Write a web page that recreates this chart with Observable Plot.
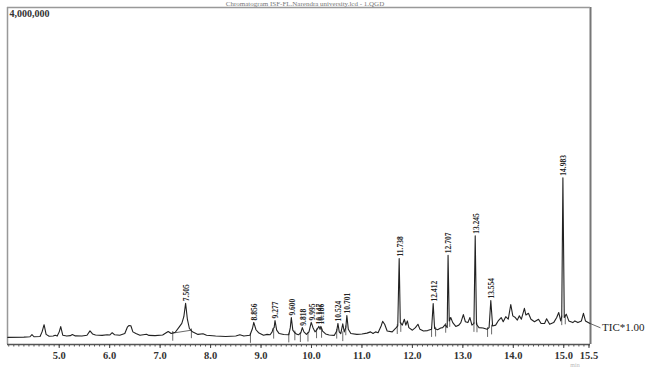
<!DOCTYPE html>
<html>
<head>
<meta charset="utf-8">
<script src="https://cdn.jsdelivr.net/npm/d3@7"></script>
<script src="https://cdn.jsdelivr.net/npm/@observablehq/plot@0.6"></script>
<style>
  html, body { margin: 0; padding: 0; background: #fff; }
  #chart { position: relative; width: 653px; height: 369px; overflow: hidden; }
</style>
</head>
<body>
<div id="chart"></div>
<script>
// Retention time (min) and intensity (counts) of the TIC trace
const traceTime = [3.98,4.3,4.42,4.46,4.50,4.62,4.66,4.70,4.74,4.80,4.88,4.92,4.96,5.00,5.03,5.07,5.15,5.22,5.26,5.32,5.45,5.55,5.61,5.66,5.72,5.85,5.95,6.00,6.05,6.10,6.2,6.30,6.35,6.38,6.42,6.46,6.52,6.6,6.73,6.78,6.9,7.05,7.12,7.16,7.22,7.3,7.38,7.43,7.47,7.505,7.54,7.58,7.64,7.75,7.85,7.92,8.1,8.3,8.5,8.58,8.66,8.78,8.83,8.856,8.9,8.95,9.0,9.05,9.12,9.18,9.22,9.24,9.26,9.277,9.31,9.36,9.45,9.55,9.58,9.600,9.63,9.66,9.70,9.74,9.79,9.818,9.85,9.90,9.95,9.995,10.03,10.07,10.1,10.147,10.17,10.186,10.22,10.28,10.35,10.45,10.50,10.524,10.55,10.58,10.62,10.65,10.68,10.701,10.73,10.78,10.9,11.0,11.1,11.17,11.22,11.27,11.32,11.38,11.41,11.45,11.5,11.6,11.68,11.71,11.738,11.76,11.8,11.84,11.87,11.9,11.93,12.0,12.06,12.11,12.15,12.22,12.3,12.38,12.412,12.44,12.5,12.56,12.6,12.65,12.69,12.707,12.73,12.76,12.8,12.86,12.92,12.96,13.01,13.05,13.1,13.14,13.18,13.22,13.245,13.27,13.32,13.4,13.48,13.52,13.554,13.59,13.65,13.7,13.76,13.8,13.85,13.9,13.95,13.99,14.04,14.08,14.12,14.16,14.22,14.25,14.3,14.35,14.42,14.5,14.55,14.62,14.66,14.72,14.8,14.86,14.9,14.94,14.96,14.983,15.01,15.05,15.1,15.18,15.22,15.28,15.35,15.39,15.43,15.52];
const traceValue = [85,88,92,118,92,95,150,235,120,98,100,110,100,150,212,110,100,105,118,102,100,110,162,125,112,108,115,112,140,115,110,130,205,225,222,150,130,110,122,108,105,112,140,155,130,145,210,250,330,490,300,190,150,120,128,110,100,95,100,115,100,110,190,262,175,140,125,110,120,115,150,190,200,285,170,130,118,115,200,320,170,145,125,115,140,200,150,120,150,262,200,150,170,215,180,215,160,125,112,108,160,250,150,130,245,150,200,345,180,130,120,125,135,150,130,150,140,220,275,240,160,150,200,220,1020,260,230,300,230,280,200,170,200,240,180,160,165,180,487,190,175,195,200,235,200,1060,280,320,260,215,230,260,355,270,260,320,230,250,1290,240,200,195,180,200,522,220,230,280,320,270,330,300,475,340,320,290,340,300,430,350,370,300,270,300,250,250,305,240,260,320,380,280,330,1980,320,360,280,260,280,260,280,370,280,250].map(v => v * 1000);

// Labelled peaks (retention time, apex intensity)
const peakTimes = [7.505,8.856,9.277,9.600,9.818,9.995,10.147,10.186,10.524,10.701,11.738,12.412,12.707,13.245,13.554,14.983];
const peakValues = [490,262,285,320,200,262,215,215,250,345,1020,487,1060,1290,522,1980].map(v => v * 1000);

// Integration start/end markers (time, trace intensity there)
const markTimes = [7.25,7.62,8.79,9.25,9.55,9.67,9.78,9.93,10.1,10.2,10.5,10.62,10.68,11.7,11.77,12.38,12.46,12.66,12.74,13.22,13.28,13.49,13.57,14.96,15.03];
const markValues = [135,165,110,160,115,140,120,125,165,170,160,130,200,215,240,180,185,230,300,240,235,180,210,320,330].map(v => v * 1000);

// Integration baseline drawn under the 7.505 peak
const baseTimes = [7.25, 7.62];
const baseValues = [135000, 170000];

const xTickValues = [5,6,7,8,9,10,11,12,13,14,15,15.5];
const yTickValues = [4000000];
const xDomain = [3.975, 15.53];
const yDomain = [0, 4000000];
const titleText = "Chromatogram ISF-FL.Narendra university.lcd - 1.QGD";
const seriesLabel = "TIC*1.00";
const unitLabel = "min";

const trace = traceTime.map((t, i) => ({t, v: traceValue[i]}));
const peaks = peakTimes.map((t, i) => ({t, v: peakValues[i], label: t.toFixed(3)}));
const marks = markTimes.map((t, i) => ({t, v: markValues[i]}));
const base = baseTimes.map((t, i) => ({t, v: baseValues[i]}));
const minorTicks = d3.range(40, 156).map(d => d / 10);
const last = trace[trace.length - 1];
const tagLine = [{t: last.t, v: last.v}, {t: last.t + 0.2, v: last.v - 50000}];

const serif = "'Liberation Serif', 'Times New Roman', serif";

const chart = Plot.plot({
  width: 653,
  height: 369,
  marginLeft: 7,
  marginRight: 63,
  marginTop: 7,
  marginBottom: 25,
  style: {fontFamily: serif, background: "#fff", overflow: "visible"},
  x: {domain: xDomain, label: null},
  y: {domain: yDomain, axis: null},
  marks: [
    // frame
    Plot.ruleX([xDomain[0]], {stroke: "#999", strokeWidth: 1.5}),
    Plot.ruleX([xDomain[1]], {stroke: "#777", strokeWidth: 2}),
    Plot.ruleY([yDomain[1]], {stroke: "#999", strokeWidth: 1.5}),
    Plot.ruleY([yDomain[0]], {stroke: "#555", strokeWidth: 1.5}),
    // axis
    Plot.axisX({ticks: minorTicks, tickSize: 2.5, text: null, label: null, stroke: "#555"}),
    Plot.axisX({ticks: xTickValues, tickSize: 4, tickPadding: 3, tickFormat: d => d.toFixed(1), label: null,
      fontSize: 10.5, fontWeight: "bold", fill: "#333", stroke: "#444"}),
    // y tick label
    Plot.text(yTickValues, {x: xDomain[0], y: d => d, text: d => d3.format(",")(d), textAnchor: "start",
      dx: 2, dy: 6, fontSize: 10, fontWeight: "bold", fill: "#333"}),
    // integration baseline & markers
    Plot.line(base, {x: "t", y: "v", stroke: "#444", strokeWidth: 0.8}),
    Plot.link(marks, {x1: "t", x2: "t", y1: d => d.v + 25000, y2: d => d.v - 90000, stroke: "#444", strokeWidth: 0.8}),
    // trace
    Plot.line(trace, {x: "t", y: "v", stroke: "#222", strokeWidth: 1.1}),
    // peak labels
    Plot.text(peaks, {x: "t", y: "v", text: "label", rotate: -90, textAnchor: "start", dy: -2, dx: 1,
      fontSize: 7.5, fontWeight: "bold", fill: "#222"}),
    // series tag
    Plot.line(tagLine, {x: "t", y: "v", stroke: "#444", strokeWidth: 0.8, clip: false}),
    Plot.text([seriesLabel], {x: tagLine[1].t, y: tagLine[1].v, text: d => d, textAnchor: "start", dx: 2,
      fontSize: 11, fill: "#222"})
  ]
});

const svg = d3.select(chart);
svg.append("text").attr("x", 305).attr("y", 5.5).attr("text-anchor", "middle")
  .attr("font-size", 7).attr("font-family", serif).attr("fill", "#777").text(titleText);
svg.append("text").attr("x", 575).attr("y", 367).attr("text-anchor", "middle")
  .attr("font-size", 6).attr("font-family", serif).attr("fill", "#bbb").text(unitLabel);

document.getElementById("chart").appendChild(chart);
</script>
</body>
</html>
